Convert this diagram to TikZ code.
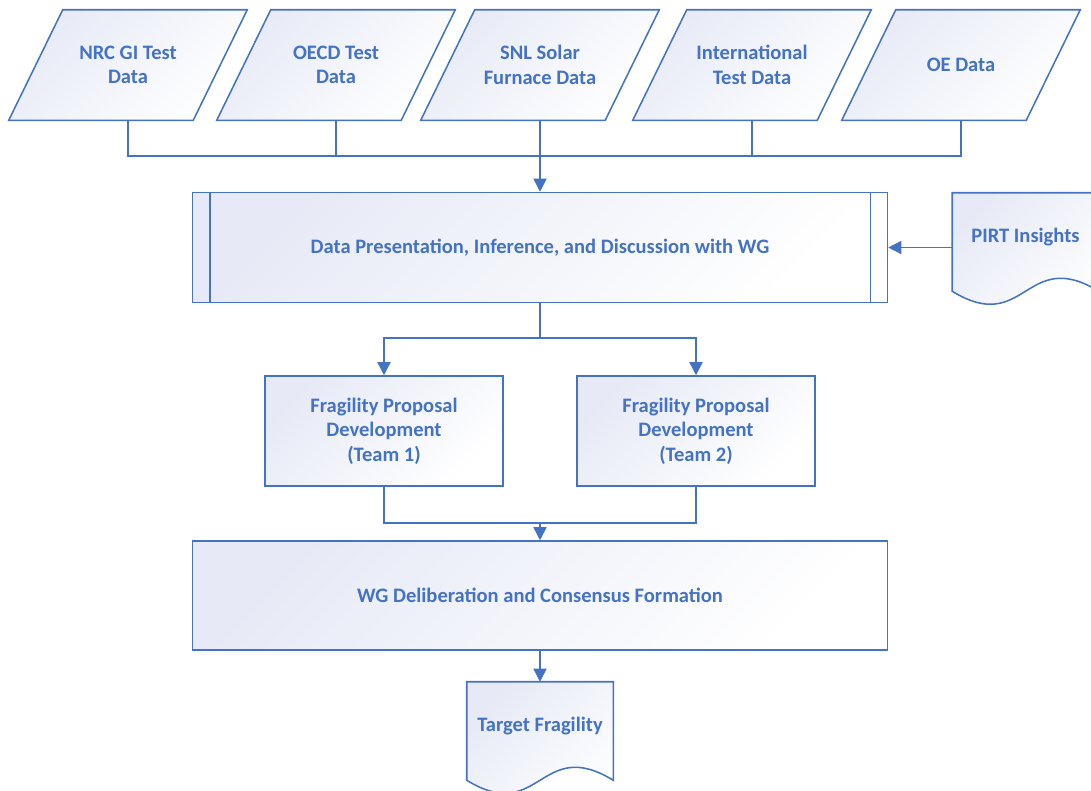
\documentclass[tikz,border=0pt]{standalone}
\usepackage{fontspec}
\setmainfont{Carlito}
\usetikzlibrary{arrows.meta,calc,backgrounds}

\definecolor{flowblue}{RGB}{68,114,196}
\definecolor{flowtint}{RGB}{231,234,246}

\tikzset{
  shaded/.style={draw=flowblue, line width=1.15pt, top color=flowtint, bottom color=white, shading angle=45},
  txt/.style={text=flowblue, font=\fontsize{15.4}{18.4}\selectfont\bfseries, align=center},
  databox/.style={txt, rectangle, minimum width=178.5pt, minimum height=82.5pt, inner sep=0pt},
  procbox/.style={shaded, txt, rectangle, minimum width=521.25pt, minimum height=82.5pt},
  teambox/.style={shaded, txt, rectangle, minimum width=178.5pt, minimum height=82.5pt},
  docbox/.style={txt, rectangle, minimum width=109.5pt, minimum height=66pt, inner sep=0pt},
  link/.style={draw=flowblue, line width=1.15pt},
  arr/.style={link, -{Triangle[length=9.8pt,width=9.8pt]}},
}

\begin{document}
\begin{tikzpicture}[x=0.75pt, y=-0.75pt]
      \useasboundingbox (0,0) rectangle (1091,790);
      %
      \node[databox] (nrc)  at (128,65) {NRC GI Test\\Data};      % data sources
      \node[databox] (oecd) at (336,65) {OECD Test\\Data};
      \node[databox] (snl)  at (540,65) {SNL Solar\\Furnace Data};
      \node[databox] (intl) at (752,65) {International\\Test Data};
      \node[databox] (oe)   at (961,65) {OE Data};
      %
      \node[procbox] (dp) at (540,247.5) {Data Presentation, Inference, and Discussion with WG};
      \draw[link] ([xshift=13.5pt]dp.north west) -- ([xshift=13.5pt]dp.south west);
      \draw[link] ([xshift=-13.5pt]dp.north east) -- ([xshift=-13.5pt]dp.south east);
      %
      \node[docbox] (pirt) at (1025.5,237) {PIRT Insights};         % side input
      %
      \node[teambox] (t1) at (384,431) {Fragility Proposal\\Development\\(Team 1)};
      \node[teambox] (t2) at (696,431) {Fragility Proposal\\Development\\(Team 2)};
      %
      \node[procbox, minimum height=81.75pt] (wg) at (540,595.5) {WG Deliberation and Consensus Formation};
      %
      \node[docbox] (tgt) at (540,726) {Target Fragility};           % result
      %
      \begin{scope}[on background layer]
        \foreach \d in {nrc,oecd,snl,intl,oe}                        % slanted data shapes
          \draw[shaded] (\d.south west) -- ($(\d.north west)+(54,0)$) -- (\d.north east)
            -- ($(\d.south east)+(-54,0)$) -- cycle;
        %
        \draw[shaded] ($(pirt.south west)+(0,10)$) -- (pirt.north west) -- (pirt.north east)
          -- ($(pirt.south east)+(0,10)$)
          .. controls ($(pirt.south)+(0,-35)$) and ($(pirt.south)+(0,55)$) .. ($(pirt.south west)+(0,10)$) -- cycle;
        \draw[shaded] ($(tgt.south west)+(0,10)$) -- (tgt.north west) -- (tgt.north east)
          -- ($(tgt.south east)+(0,10)$)
          .. controls ($(tgt.south)+(0,-35)$) and ($(tgt.south)+(0,55)$) .. ($(tgt.south west)+(0,10)$) -- cycle;
      \end{scope}
      %
      \coordinate (bus) at (540,156);                                % collector line
      \draw[link] (nrc.south) |- (bus);
      \draw[link] (oe.south) |- (bus);
      \draw[link] (oecd.south) -- (oecd.south |- bus);
      \draw[link] (intl.south) -- (intl.south |- bus);
      \draw[arr] (snl.south) -- (dp.north);
      %
      \draw[arr] (dp.east -| pirt.west) -- (dp.east);
      %
      \coordinate (split) at (540,338);                              % to the teams
      \draw[link] (dp.south) -- (split);
      \draw[arr] (split) -| (t1.north);
      \draw[arr] (split) -| (t2.north);
      %
      \coordinate (merge) at (540,523);                              % back together
      \draw[link] (t1.south) |- (merge);
      \draw[link] (t2.south) |- (merge);
      \draw[arr] (merge) -- (wg.north);
      %
      \draw[arr] (wg.south) -- (tgt.north);
      %
    \end{tikzpicture}
\end{document}
